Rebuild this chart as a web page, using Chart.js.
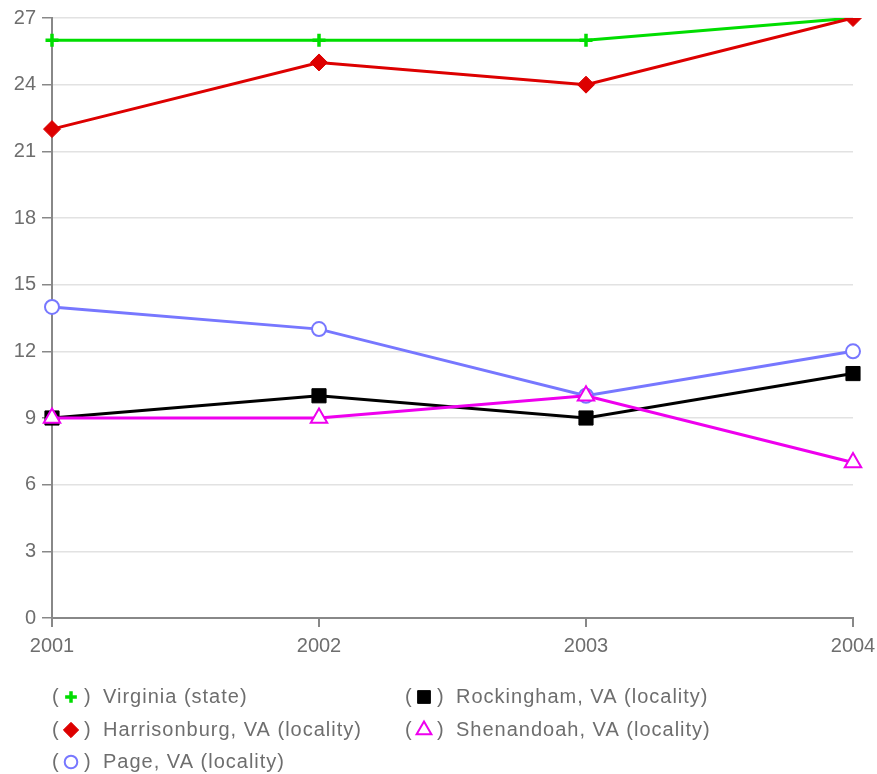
<!DOCTYPE html>
<html>
<head>
<meta charset="utf-8">
<script src="https://cdn.jsdelivr.net/npm/chart.js@4"></script>
<style>
  html, body { margin: 0; padding: 0; background: #fff; }
  #wrap { width: 877px; height: 774px; position: relative; }
</style>
</head>
<body>
<div id="wrap"><canvas id="myChart" width="877" height="774"></canvas></div>
<script>
// data
const years = ['2001', '2002', '2003', '2004'];
const seriesNames = [
    'Virginia (state)',
    'Harrisonburg, VA (locality)',
    'Page, VA (locality)',
    'Rockingham, VA (locality)',
    'Shenandoah, VA (locality)'
];
const virginia = [26, 26, 26, 27];
const harrisonburg = [22, 25, 24, 27];
const page = [14, 13, 10, 12];
const rockingham = [9, 10, 9, 11];
const shenandoah = [9, 9, 10, 7];
const yTicks = [0, 3, 6, 9, 12, 15, 18, 21, 24, 27];

const FONT = 'Liberation Sans';
const GRAY = '#6e6e6e';

const datasets = [
    { label: seriesNames[0], data: virginia, borderColor: '#00dd00', backgroundColor: '#00dd00',
      pointStyle: 'cross', pointRadius: 6.5, pointBorderWidth: 3.5 },
    { label: seriesNames[1], data: harrisonburg, borderColor: '#dd0000', backgroundColor: '#dd0000',
      pointStyle: 'rectRot', pointRadius: 8.5, pointBorderWidth: 1 },
    { label: seriesNames[2], data: page, borderColor: '#7777ff', backgroundColor: '#ffffff',
      pointStyle: 'circle', pointRadius: 7, pointBorderWidth: 2 },
    { label: seriesNames[3], data: rockingham, borderColor: '#000000', backgroundColor: '#000000',
      pointStyle: 'rect', pointRadius: 10, pointBorderWidth: 1 },
    { label: seriesNames[4], data: shenandoah, borderColor: '#ee00ee', backgroundColor: '#ffffff',
      pointStyle: 'triangle', pointRadius: 9.5, pointBorderWidth: 2 }
].map((d, i) => Object.assign({
    borderWidth: 3, tension: 0, fill: false,
    pointBackgroundColor: d.backgroundColor,
    order: 4 - i   // later series drawn on top
}, d));

// legend drawn on the canvas, two columns, "( marker )  name"
const parenLegend = {
    id: 'parenLegend',
    afterDraw(chart) {
        const ctx = chart.ctx;
        const cols = [52, 405];
        const rows = [697, 730, 762];
        const order = [[0, 0], [0, 1], [0, 2], [1, 0], [1, 1]];
        ctx.save();
        ctx.font = '20px "' + FONT + '"';
        ctx.textBaseline = 'middle';
        chart.data.datasets.forEach((ds, i) => {
            const x = cols[order[i][0]];
            const y = rows[order[i][1]];
            ctx.fillStyle = GRAY;
            ctx.textAlign = 'left';
            ctx.letterSpacing = '0px';
            ctx.fillText('(', x, y);
            ctx.fillText(')', x + 32, y);
            ctx.letterSpacing = '1px';
            ctx.fillText(ds.label, x + 51, y);
            ctx.strokeStyle = ds.borderColor;
            ctx.fillStyle = ds.pointBackgroundColor;
            ctx.lineWidth = ds.pointBorderWidth;
            Chart.helpers.drawPoint(ctx, {
                pointStyle: ds.pointStyle,
                radius: ds.pointRadius * 0.9,
                rotation: 0,
                borderWidth: ds.pointBorderWidth
            }, x + 19, y);
        });
        ctx.restore();
    }
};

new Chart(document.getElementById('myChart'), {
    type: 'line',
    data: { labels: years, datasets: datasets },
    plugins: [parenLegend],
    options: {
        responsive: false,
        animation: false,
        layout: { padding: { top: 18, right: 24, left: 0, bottom: 0 } },
        plugins: { legend: { display: false }, tooltip: { enabled: false } },
        scales: {
            x: {
                offset: false,
                grid: { drawOnChartArea: false, tickLength: 9, color: '#888', lineWidth: 2 },
                border: { color: '#888', width: 2 },
                ticks: { color: GRAY, font: { family: FONT, size: 20 }, padding: 7, maxRotation: 0 },
                afterFit(scale) {
                    scale.height = 156;
                    scale.paddingLeft = 0;
                    scale.paddingRight = 0;
                }
            },
            y: {
                min: 0, max: 27,
                afterBuildTicks(scale) { scale.ticks = yTicks.map(v => ({ value: v })); },
                grid: { color: '#e2e2e2', lineWidth: 1.5, tickLength: 10, tickColor: '#888' },
                border: { color: '#888', width: 2 },
                ticks: { color: GRAY, font: { family: FONT, size: 20 }, padding: 6 },
                afterFit(scale) {
                    scale.width = 52;
                    scale.paddingTop = 0;
                    scale.paddingBottom = 0;
                }
            }
        }
    }
});
</script>
</body>
</html>
